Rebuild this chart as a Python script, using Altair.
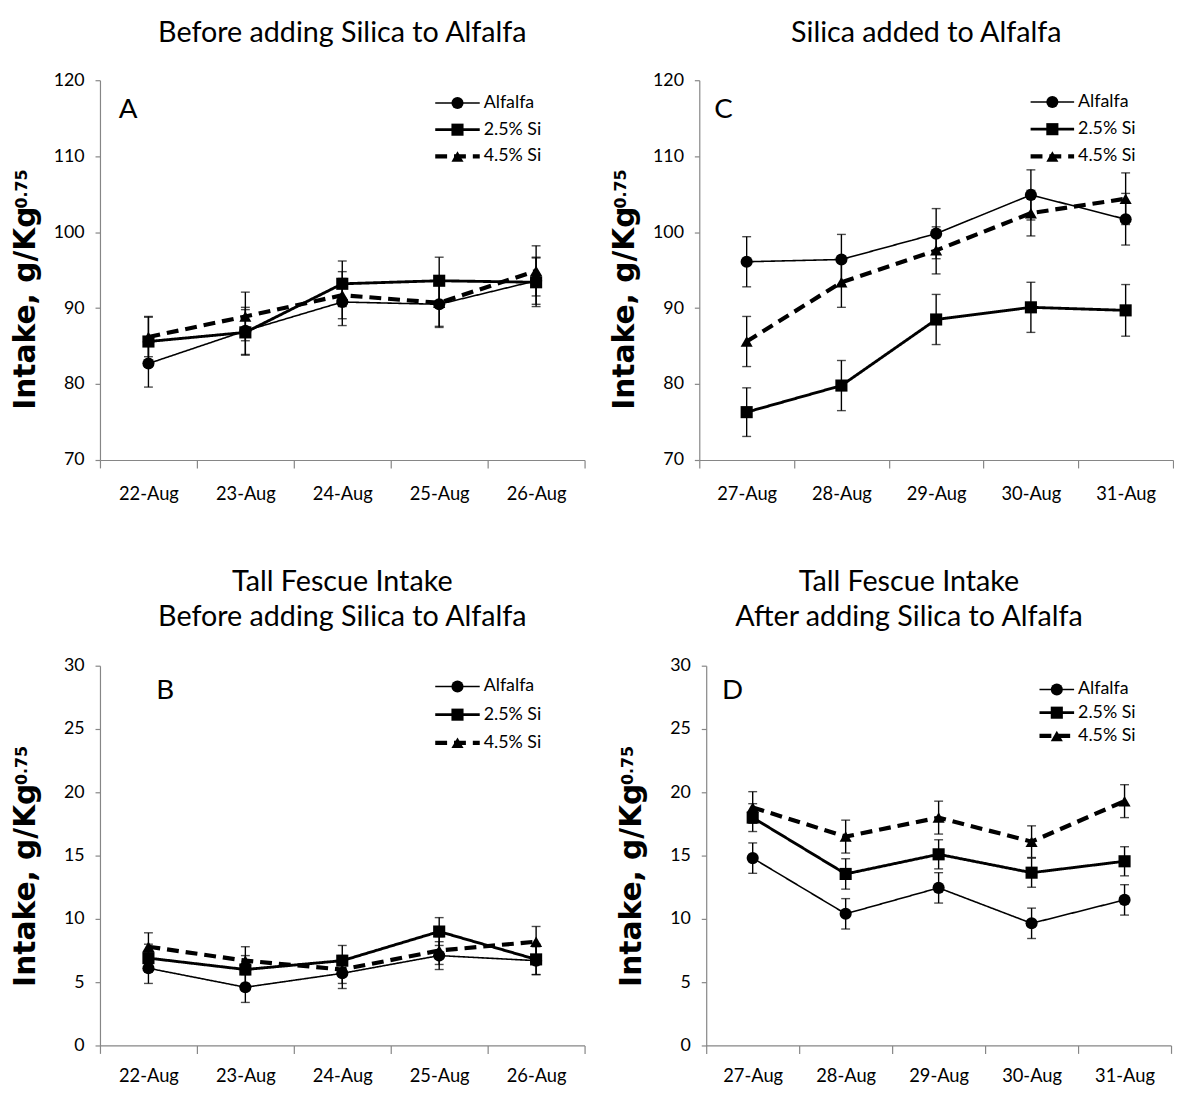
import altair as alt
import pandas as pd

FONT = "Lato"
TFONT = "DejaVu Sans"

series = ["Alfalfa", "2.5% Si", "4.5% Si"]
legend_row = [0, 1, 2]
dates_before = ["22-Aug", "23-Aug", "24-Aug", "25-Aug", "26-Aug"]
dates_after = ["27-Aug", "28-Aug", "29-Aug", "30-Aug", "31-Aug"]

# Panel A: alfalfa intake before silica
a_alf = [82.7, 87.0, 90.8, 90.5, 93.6]
a_alf_err = [3.1, 3.1, 3.1, 3.05, 3.1]
a_25 = [85.6, 86.8, 93.2, 93.6, 93.4]
a_25_err = [3.3, 3.0, 3.0, 3.1, 3.2]
a_45 = [86.2, 88.9, 91.7, 90.7, 94.9]
a_45_err = [2.6, 3.2, 3.1, 3.1, 3.3]

# Panel C: silica added to alfalfa
c_alf = [96.1, 96.4, 99.8, 104.9, 101.7]
c_alf_err = [3.3, 3.3, 3.3, 3.3, 3.4]
c_25 = [76.3, 79.8, 88.5, 90.1, 89.7]
c_25_err = [3.2, 3.3, 3.3, 3.3, 3.4]
c_45 = [85.6, 93.4, 97.6, 102.5, 104.4]
c_45_err = [3.3, 3.3, 3.1, 3.0, 3.4]

# Panel B: tall fescue intake before silica
b_alf = [6.1, 4.6, 5.7, 7.1, 6.7]
b_alf_err = [1.2, 1.2, 1.2, 1.1, 1.1]
b_25 = [6.9, 6.0, 6.7, 9.0, 6.8]
b_25_err = [1.1, 1.1, 1.2, 1.1, 1.2]
b_45 = [7.8, 6.7, 6.0, 7.5, 8.2]
b_45_err = [1.1, 1.1, 1.1, 1.1, 1.2]

# Panel D: tall fescue intake after silica
d_alf = [14.8, 10.4, 12.45, 9.65, 11.5]
d_alf_err = [1.2, 1.2, 1.2, 1.2, 1.2]
d_25 = [18.0, 13.55, 15.1, 13.65, 14.55]
d_25_err = [1.1, 1.2, 1.15, 1.15, 1.15]
d_45 = [18.8, 16.5, 18.0, 16.1, 19.3]
d_45_err = [1.25, 1.3, 1.3, 1.25, 1.3]

y_title_main = "Intake, g/Kg"
y_title_sup = "0.75"

rows = []
def add(panel, dates, vals_list, errs_list):
    for s, vals, errs in zip(series, vals_list, errs_list):
        for d, v, e in zip(dates, vals, errs):
            rows.append({"panel": panel, "date": d, "series": s, "value": v,
                         "lo": v - e, "hi": v + e})

add("A", dates_before, [a_alf, a_25, a_45], [a_alf_err, a_25_err, a_45_err])
add("C", dates_after, [c_alf, c_25, c_45], [c_alf_err, c_25_err, c_45_err])
add("B", dates_before, [b_alf, b_25, b_45], [b_alf_err, b_25_err, b_45_err])
add("D", dates_after, [d_alf, d_25, d_45], [d_alf_err, d_25_err, d_45_err])
df = pd.DataFrame(rows)
leg_df = pd.DataFrame({"series": series, "row": legend_row})

shape_scale = alt.Scale(domain=series, range=["circle", "square", "triangle-up"])
dash_scale = alt.Scale(domain=series, range=[[1, 0], [1, 0], [12, 7]])
width_scale = alt.Scale(domain=series, range=[1.6, 4.2, 3.2])
size_scale = alt.Scale(domain=series, range=[150, 150, 170])


def panel(pid, dates, ymin, ymax, ystep, title, title_offset, title_dx, width, height,
          xlab_pad, letter_xy, leg_rows, leg_x, ytitle_y, sup_y):
    d = df[df.panel == pid]
    base = alt.Chart(d)
    x = alt.X("date:N", sort=dates,
              scale=alt.Scale(type="band", domain=dates, paddingInner=0, paddingOuter=0),
              axis=alt.Axis(title=None, labelAngle=0, tickBand="extent", labelFontSize=18.5,
                            labelPadding=xlab_pad, tickSize=8))
    yscale = alt.Scale(domain=[ymin, ymax], nice=False, zero=False)
    yaxis = alt.Axis(title=None, values=list(range(ymin, ymax + 1, ystep)),
                     labelFontSize=18, labelPadding=11, tickSize=5)
    yq = lambda f: alt.Y(f, scale=yscale, axis=yaxis)

    err = base.mark_rule(color="black", strokeWidth=1.4).encode(x=x, y=yq("lo:Q"), y2="hi:Q")
    cap_lo = base.mark_tick(color="black", size=9, thickness=1.4).encode(x=x, y=yq("lo:Q"))
    cap_hi = base.mark_tick(color="black", size=9, thickness=1.4).encode(x=x, y=yq("hi:Q"))
    lines = base.mark_line(color="black").encode(
        x=x, y=yq("value:Q"),
        detail="series:N",
        strokeDash=alt.StrokeDash("series:N", scale=dash_scale, legend=None),
        strokeWidth=alt.StrokeWidth("series:N", scale=width_scale, legend=None),
    )
    pts = base.mark_point(filled=True, color="black", opacity=1).encode(
        x=x, y=yq("value:Q"),
        shape=alt.Shape("series:N", scale=shape_scale, legend=None),
        size=alt.Size("series:N", scale=size_scale, legend=None),
    )
    one = alt.Chart(pd.DataFrame({"t": [letter_xy[2]]}))
    letter = one.mark_text(font=FONT, fontSize=28, align="left", baseline="middle",
                           color="black").encode(
        x=alt.value(letter_xy[0]), y=alt.value(letter_xy[1]), text="t:N")
    yt = alt.Chart(pd.DataFrame({"t": [y_title_main]})).mark_text(
        font=TFONT, fontSize=30, fontWeight="bold", angle=270, align="center",
        baseline="alphabetic", color="black").encode(
        x=alt.value(-66), y=alt.value(ytitle_y), text="t:N")
    ys = alt.Chart(pd.DataFrame({"t": [y_title_sup]})).mark_text(
        font=TFONT, fontSize=16, fontWeight="bold", angle=270, align="center",
        baseline="alphabetic", color="black").encode(
        x=alt.value(-74), y=alt.value(sup_y), text="t:N")

    main = alt.layer(err, cap_lo, cap_hi, lines, pts, letter, yt, ys)

    lb = alt.Chart(leg_df)
    ly = alt.Y("row:Q", scale=alt.Scale(domain=[0, 2], range=[leg_rows[0], leg_rows[1]],
                                        nice=False, zero=False), axis=None)
    leg_line = lb.mark_rule(color="black").encode(
        x=alt.value(leg_x[0]), x2=alt.value(leg_x[1]), y=ly,
        strokeDash=alt.StrokeDash("series:N", scale=dash_scale, legend=None),
        strokeWidth=alt.StrokeWidth("series:N", scale=width_scale, legend=None))
    leg_pt = lb.mark_point(filled=True, color="black", opacity=1).encode(
        x=alt.value((leg_x[0] + leg_x[1]) / 2), y=ly,
        shape=alt.Shape("series:N", scale=shape_scale, legend=None),
        size=alt.Size("series:N", scale=size_scale, legend=None))
    leg_txt = lb.mark_text(font=FONT, fontSize=18, align="left", baseline="middle",
                           color="black").encode(
        x=alt.value(leg_x[1] + 4), y=ly, text="series:N")
    legend = alt.layer(leg_line, leg_pt, leg_txt)

    return alt.layer(main, legend).resolve_scale(y="independent").properties(
        width=width, height=height,
        title=alt.TitleParams(text=title, font=FONT, fontSize=29, fontWeight="normal",
                              color="black", anchor="middle", frame="group",
                              baseline="alphabetic", offset=title_offset, dx=title_dx,
                              lineHeight=36))


pA = panel("A", dates_before, 70, 120, 10, "Before adding Silica to Alfalfa", 1, 0, 490, 384,
           17, (19, 30, "A"), [23, 77], (339, 384), 230.5, 110)
pC = panel("C", dates_after, 70, 120, 10, "Silica added to Alfalfa", 1, -10, 479, 384,
           17, (15, 30, "C"), [22, 77], (335, 379), 230.5, 110)
pB = panel("B", dates_before, 0, 30, 5, ["Tall Fescue Intake", "Before adding Silica to Alfalfa"],
           2, 0, 490, 384, 13, (57, 26, "B"), [21, 78], (339, 384), 222, 101)
pD = panel("D", dates_after, 0, 30, 5, ["Tall Fescue Intake", "After adding Silica to Alfalfa"],
           2, -30, 470, 384, 13, (16, 26, "D"), [24, 71], (337, 372), 222, 101)

chart = alt.vconcat(
    alt.hconcat(pA, pC, spacing=25),
    alt.hconcat(pB, pD, spacing=32),
    spacing=65,
).properties(padding={"left": 3, "top": 5, "right": 0, "bottom": 0}).configure_view(
    stroke=None
).configure_axis(
    labelFont=FONT, labelColor="black", domainColor="#868686", tickColor="#868686",
    domainWidth=1.2, tickWidth=1.2, grid=False
)

chart.save("out.html", embed_options={"renderer": "svg", "actions": False})
